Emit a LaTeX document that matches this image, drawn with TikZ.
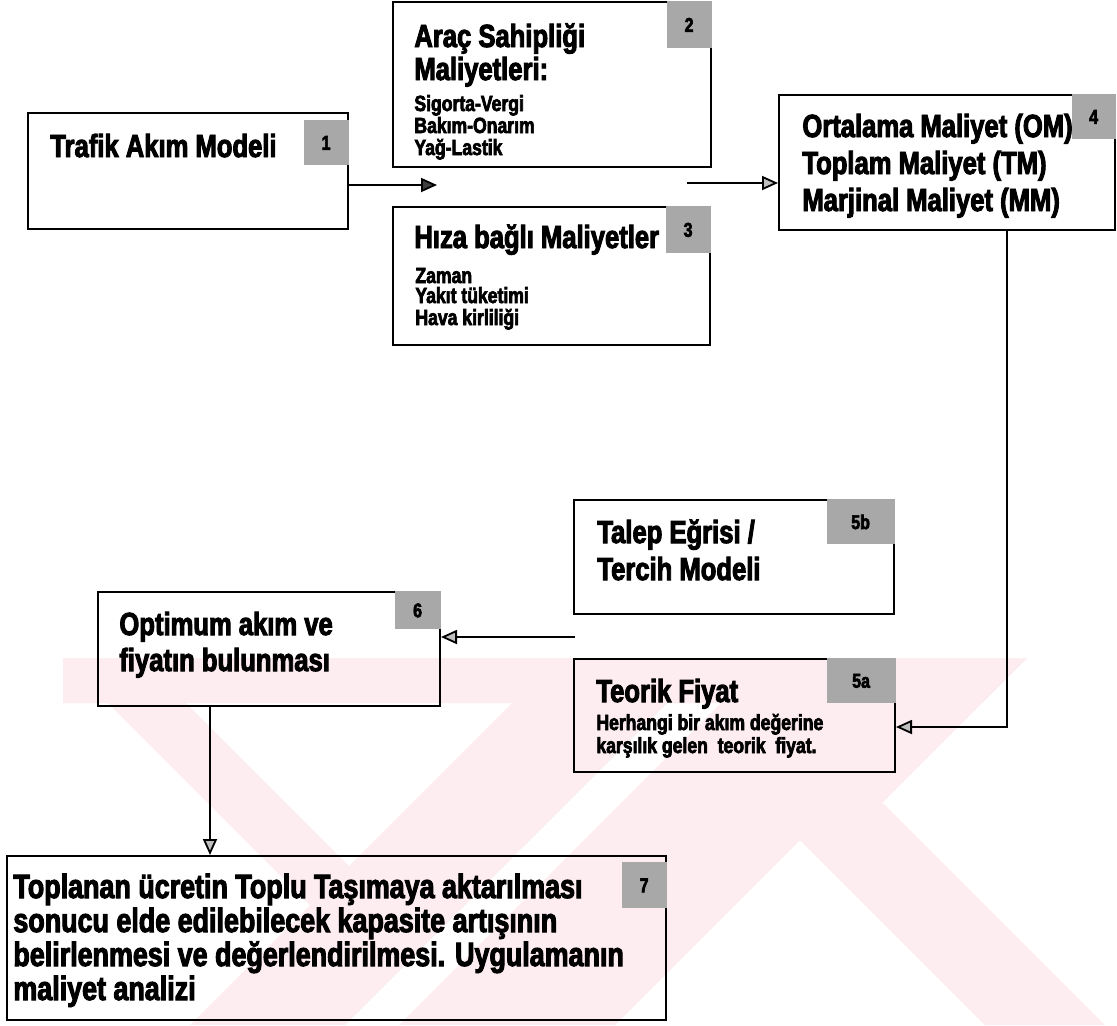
\documentclass[tikz,border=0pt]{standalone}
\usepackage{fontspec}
\usetikzlibrary{arrows.meta}
\newfontfamily\imp{Liberation Sans}[FakeStretch=0.8,BoldFeatures={FakeBold=3}]
\definecolor{wm}{RGB}{253,236,240}
\definecolor{bgray}{RGB}{168,168,168}
\tikzset{
  box/.style={draw=black, line width=1pt, inner sep=0pt},
  badge/.style={fill=bgray, inner sep=0pt, font=\imp\bfseries\fontsize{10}{12}\selectfont},
  big/.style={anchor=base west, inner sep=0pt, font=\imp\bfseries\fontsize{16}{18}\selectfont},
  bigger/.style={anchor=base west, inner sep=0pt, font=\imp\bfseries\fontsize{16.8}{18}\selectfont},
  small/.style={anchor=base west, inner sep=0pt, font=\imp\bfseries\fontsize{11}{13}\selectfont},
  arr/.style={line width=0.9pt, -{Triangle[length=8pt,width=7pt,fill=gray!50]}},
  arrdark/.style={line width=0.9pt, -{Triangle[length=8pt,width=7pt,fill=black!75]}},
}
\begin{document}
\begin{tikzpicture}[x=0.5pt,y=-0.5pt]
\useasboundingbox (0,0) rectangle (1117,1025);
\fill[white] (0,0) rectangle (1117,1025);
% watermark (faint background logo)
\fill[wm] (63,658) -- (1027,658) -- (982,703) -- (63,703) -- cycle;
\fill[wm] (63,658) -- (141,658) -- (349,866) -- (310,905) -- cycle;
\fill[wm] (557,658) -- (712,658) -- (345,1025) -- (190,1025) -- cycle;
\fill[wm] (766,658) -- (982,658) -- (615,1025) -- (399,1025) -- cycle;
\fill[wm] (982,658) -- (1027,658) -- (882.5,802.5) -- (860,780) -- cycle;
\fill[wm] (860,780) -- (1105,1025) -- (985,1025) -- (800,840) -- cycle;

% boxes
\node[box, minimum width=160pt, minimum height=58pt] (b1) at (188,171) {};
\node[box, minimum width=159pt, minimum height=82.5pt] (b2) at (552,84.5) {};
\node[box, minimum width=158.5pt, minimum height=69pt] (b3) at (551.5,276) {};
\node[box, minimum width=168pt, minimum height=67.5pt] (b4) at (947,162.5) {};
\node[box, minimum width=160pt, minimum height=57pt] (b5b) at (734,557) {};
\node[box, minimum width=160.5pt, minimum height=56.5pt] (b5a) at (734.5,715.5) {};
\node[box, minimum width=171pt, minimum height=57pt] (b6) at (269,649) {};
\node[box, minimum width=329.5pt, minimum height=82pt] (b7) at (336.5,938) {};

% badges
\node[badge, minimum width=22.5pt, minimum height=22.5pt, anchor=north east] (g1) at ([yshift=-4pt]b1.north east) {1};
\node[badge, minimum width=22.5pt, minimum height=23.5pt, anchor=north east] (g2) at (b2.north east) {2};
\node[badge, minimum width=22.5pt, minimum height=23.5pt, anchor=north east] (g3) at (b3.north east) {3};
\node[badge, minimum width=22pt, minimum height=22.5pt, anchor=north east] (g4) at (b4.north east) {4};
\node[badge, minimum width=34pt, minimum height=22.5pt, anchor=north east] (g5b) at (b5b.north east) {5b};
\node[badge, minimum width=34.5pt, minimum height=22.5pt, anchor=north east] (g5a) at (b5a.north east) {5a};
\node[badge, minimum width=23pt, minimum height=19pt, anchor=north east] (g6) at (b6.north east) {6};
\node[badge, minimum width=22.5pt, minimum height=23pt, anchor=north east] (g7) at ([yshift=-3.5pt]b7.north east) {7};

% texts
\node[big] (t1) at (50,157) {Trafik Akım Modeli};

\node[big] (t2a) at (414,47) {Araç Sahipliği};
\node[big] (t2b) at (414,80) {Maliyetleri:};
\node[small] (t2c) at (414,111) {Sigorta-Vergi};
\node[small] (t2d) at (414,133) {Bakım-Onarım};
\node[small] (t2e) at (414,155) {Yağ-Lastik};

\node[big] (t3a) at (414,248) {Hıza bağlı Maliyetler};
\node[small] (t3b) at (415,283) {Zaman};
\node[small] (t3c) at (415,303) {Yakıt tüketimi};
\node[small] (t3d) at (415,325) {Hava kirliliği};

\node[big] (t4a) at (802,137) {Ortalama Maliyet (OM)};
\node[big] (t4b) at (802,174) {Toplam Maliyet (TM)};
\node[big] (t4c) at (802,211) {Marjinal Maliyet (MM)};

\node[big] (t5ba) at (597,543) {Talep Eğrisi /};
\node[big] (t5bb) at (597,580) {Tercih Modeli};

\node[big] (t5aa) at (596,702) {Teorik Fiyat};
\node[small] (t5ab) at (596,730) {Herhangi bir akım değerine};
\node[small] (t5ac) at (596,753) {karşılık gelen\ \ teorik\ \ fiyat.};

\node[big] (t6a) at (119,635) {Optimum akım ve};
\node[big] (t6b) at (119,671) {fiyatın bulunması};

\node[bigger] (t7a) at (13,898) {Toplanan ücretin Toplu Taşımaya aktarılması};
\node[bigger] (t7b) at (13,932) {sonucu elde edilebilecek kapasite artışının};
\node[bigger] (t7c) at (13,966) {belirlenmesi ve değerlendirilmesi. Uygulamanın};
\node[bigger] (t7d) at (13,1000) {maliyet analizi};

% connectors
\coordinate (j1) at (437,185);
\coordinate (j2) at (687,183);
\coordinate (j4) at (1007,727);
\coordinate (j5) at (575,637);
\coordinate (j6) at (210,706);
\draw[arrdark] (b1.east |- j1) -- (j1);
\draw[arr] (j2) -- (b4.west |- j2);
\draw[arr] (b4.south -| j4) -- (j4) -- (b5a.east |- j4);
\draw[arr] (j5) -- (b6.east |- j5);
\draw[arr] (b6.south -| j6) -- (b7.north -| j6);
\end{tikzpicture}
\end{document}
